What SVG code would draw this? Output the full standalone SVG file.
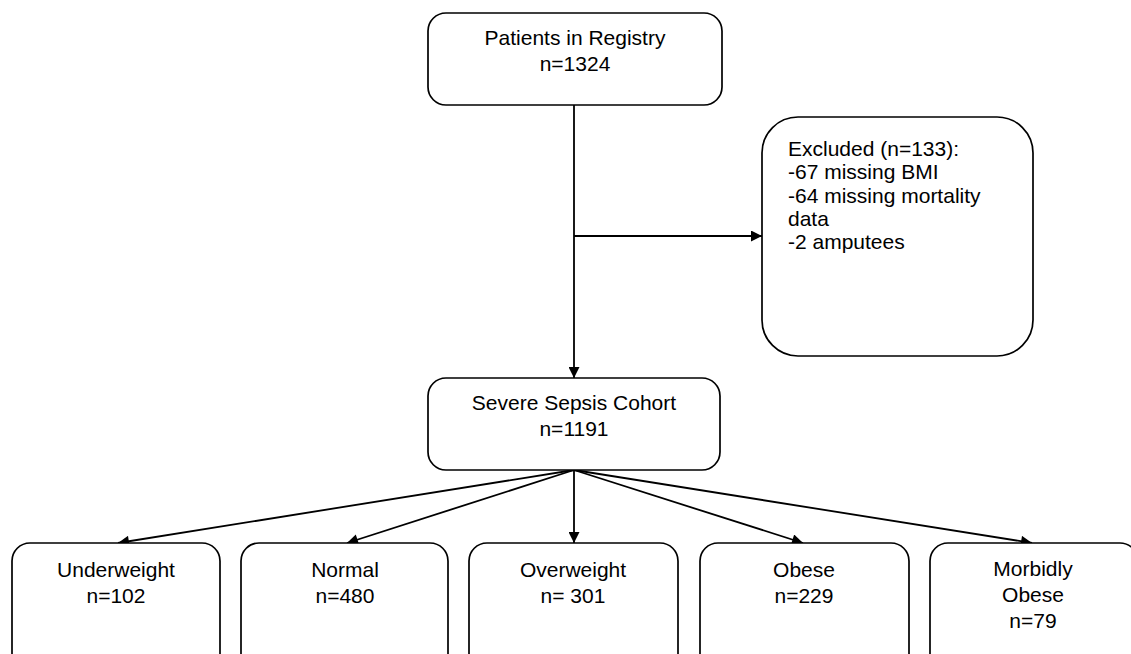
<svg xmlns="http://www.w3.org/2000/svg" width="1131" height="654" viewBox="0 0 1131 654">
<defs>
<marker id="ah" viewBox="0 0 10 10" refX="10" refY="5" markerWidth="13" markerHeight="11" markerUnits="userSpaceOnUse" orient="auto">
<path d="M0,0 L10,5 L0,10 z" fill="#000"/>
</marker>
<style>
.box{fill:#fff;stroke:#000;stroke-width:1.7}
.t{font-family:"Liberation Sans",Arial,sans-serif;font-size:21px;fill:#000}
.c{text-anchor:middle}
.ln{stroke:#000;stroke-width:1.8;fill:none}
</style>
</defs>
<rect width="1131" height="654" fill="#fff"/>
<g id="connectors">
<line class="ln" x1="574" y1="105" x2="574" y2="378" marker-end="url(#ah)"/>
<line class="ln" x1="574" y1="236" x2="762" y2="236" marker-end="url(#ah)"/>
<line class="ln" x1="574" y1="470" x2="118" y2="543" marker-end="url(#ah)"/>
<line class="ln" x1="574" y1="470" x2="347" y2="543" marker-end="url(#ah)"/>
<line class="ln" x1="574" y1="470" x2="574" y2="543" marker-end="url(#ah)"/>
<line class="ln" x1="574" y1="470" x2="803" y2="543" marker-end="url(#ah)"/>
<line class="ln" x1="574" y1="470" x2="1032" y2="543" marker-end="url(#ah)"/>
</g>
<g id="registry">
<rect class="box" x="428" y="13" width="294" height="92" rx="18"/>
<text class="t c" x="575" y="45">Patients in Registry</text>
<text class="t c" x="575" y="71">n=1324</text>
</g>
<g id="excluded">
<rect class="box" x="762" y="117" width="271" height="239" rx="36"/>
<text class="t" x="788" y="156">Excluded (n=133):</text>
<text class="t" x="788" y="179">-67 missing BMI</text>
<text class="t" x="788" y="203">-64 missing mortality</text>
<text class="t" x="788" y="226">data</text>
<text class="t" x="788" y="249">-2 amputees</text>
</g>
<g id="sepsis">
<rect class="box" x="428" y="378" width="292" height="92" rx="18"/>
<text class="t c" x="574" y="410">Severe Sepsis Cohort</text>
<text class="t c" x="574" y="436">n=1191</text>
</g>
<g id="underweight">
<rect class="box" x="12" y="543" width="208" height="130" rx="18"/>
<text class="t c" x="116" y="577">Underweight</text>
<text class="t c" x="116" y="603">n=102</text>
</g>
<g id="normal">
<rect class="box" x="241" y="543" width="207" height="130" rx="18"/>
<text class="t c" x="345" y="577">Normal</text>
<text class="t c" x="345" y="603">n=480</text>
</g>
<g id="overweight">
<rect class="box" x="469" y="543" width="209" height="130" rx="18"/>
<text class="t c" x="573" y="577">Overweight</text>
<text class="t c" x="573" y="603">n= 301</text>
</g>
<g id="obese">
<rect class="box" x="700" y="543" width="209" height="130" rx="18"/>
<text class="t c" x="804" y="577">Obese</text>
<text class="t c" x="804" y="603">n=229</text>
</g>
<g id="morbidly-obese">
<rect class="box" x="930" y="543" width="208" height="130" rx="18"/>
<text class="t c" x="1033" y="576">Morbidly</text>
<text class="t c" x="1033" y="602">Obese</text>
<text class="t c" x="1033" y="628">n=79</text>
</g>
</svg>
